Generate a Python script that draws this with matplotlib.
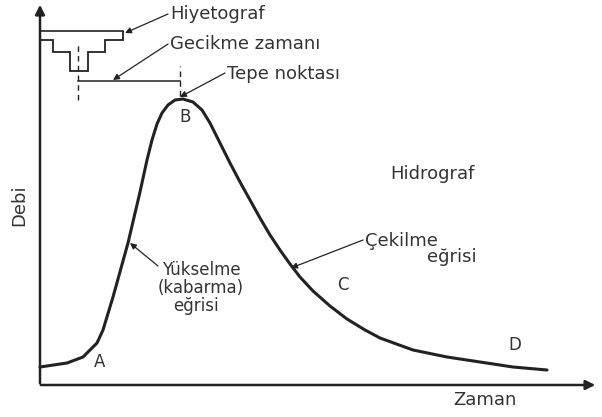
import numpy as np
import matplotlib.pyplot as plt

# hidrograf egrisi (zaman, debi) - keyfi birimler
zaman = [0, 27, 43, 57, 63, 73, 88, 100, 107, 112, 117, 122, 128, 135, 143,
         153, 162, 170, 180, 190, 200, 210, 220, 230, 240, 250, 260, 273, 290,
         307, 325, 340, 373, 407, 440, 473, 507]
debi = [18, 22, 28, 42, 55, 88, 142, 193, 225, 245, 261, 272, 280, 285, 286,
        283, 275, 262, 242, 222, 203, 185, 167, 150, 135, 121, 108, 94, 79,
        66, 55, 47, 35, 28, 23, 18, 15]

# hiyetograf (yagis) basamaklari, ustten asagi dogru
yagis_sinir = [0, 13, 30, 48, 65, 83]
yagis = [9, 21, 40, 21, 9]
yagis_ust = 354

agirlik_merkezi = 38   # yagis merkezi
tepe_zamani = 140      # tepe noktasi

renk = '#222222'
yazi_renk = '#333333'

fig = plt.figure(figsize=(6.02, 4.17), dpi=100)
ax = fig.add_axes([0, 0, 1, 1])
ax.set_xlim(-40, 562)
ax.set_ylim(-32, 385)
ax.axis('off')

# eksenler
ax.annotate('', xy=(558, 0), xytext=(-2, 0),
            arrowprops=dict(arrowstyle='-|>', lw=1.8, color=renk, mutation_scale=14))
ax.annotate('', xy=(0, 383), xytext=(0, -1),
            arrowprops=dict(arrowstyle='-|>', lw=1.8, color=renk, mutation_scale=14))

# hidrograf
ax.plot(zaman, debi, color=renk, lw=2.2, solid_capstyle='round', solid_joinstyle='round')

# hiyetograf
ax.plot([0, yagis_sinir[-1]], [yagis_ust, yagis_ust], color=renk, lw=1.2)
ax.stairs(yagis_ust - np.array(yagis), yagis_sinir, baseline=yagis_ust,
          color=renk, lw=1.3)

# gecikme zamani
ax.plot([agirlik_merkezi, agirlik_merkezi], [285, 343], color=renk, lw=1, ls=(0, (4, 3)))
ax.plot([tepe_zamani, tepe_zamani], [289, 319], color=renk, lw=1, ls=(0, (4, 3)))
ax.plot([agirlik_merkezi, tepe_zamani], [304, 304], color=renk, lw=1.1)

# etiket oklari
ok = dict(arrowstyle='-|>', lw=0.9, color=renk, mutation_scale=9, shrinkA=0, shrinkB=0)
oklar = [((85, 352), (128, 371)),   # hiyetograf
         ((73, 305), (128, 341)),   # gecikme zamani
         ((140, 288), (185, 312)),  # tepe noktasi
         ((90, 142), (118, 119)),   # yukselme egrisi
         ((251, 117), (323, 145))]  # cekilme egrisi
for uc, bas in oklar:
    ax.annotate('', xy=uc, xytext=bas, arrowprops=ok)

yazi = dict(color=yazi_renk, fontsize=13, family='DejaVu Sans', va='center', ha='left')

ax.text(130, 371, 'Hiyetograf', **yazi)
ax.text(130, 341, 'Gecikme zamanı', **yazi)
ax.text(187, 311, 'Tepe noktası', **yazi)
ax.text(325, 144, 'Çekilme', **yazi)
ax.text(387, 128, 'eğrisi', **yazi)
ax.text(350, 211, 'Hidrograf', **yazi)
ax.text(413, -15, 'Zaman', **yazi)
ax.text(-21, 180, 'Debi', color=yazi_renk, fontsize=13, rotation=90,
        va='center', ha='center')

kucuk = dict(yazi, fontsize=12)
ax.text(122, 115, 'Yükselme', **kucuk)
ax.text(118, 97, '(kabarma)', **kucuk)
ax.text(133, 79, 'eğrisi', **kucuk)

harf = dict(color=yazi_renk, fontsize=12, va='center', ha='center')
ax.text(145, 268, 'B', **harf)
ax.text(60, 23, 'A', **harf)
ax.text(303, 100, 'C', **harf)
ax.text(475, 40, 'D', **harf)

fig.savefig('out.png', dpi=100)
